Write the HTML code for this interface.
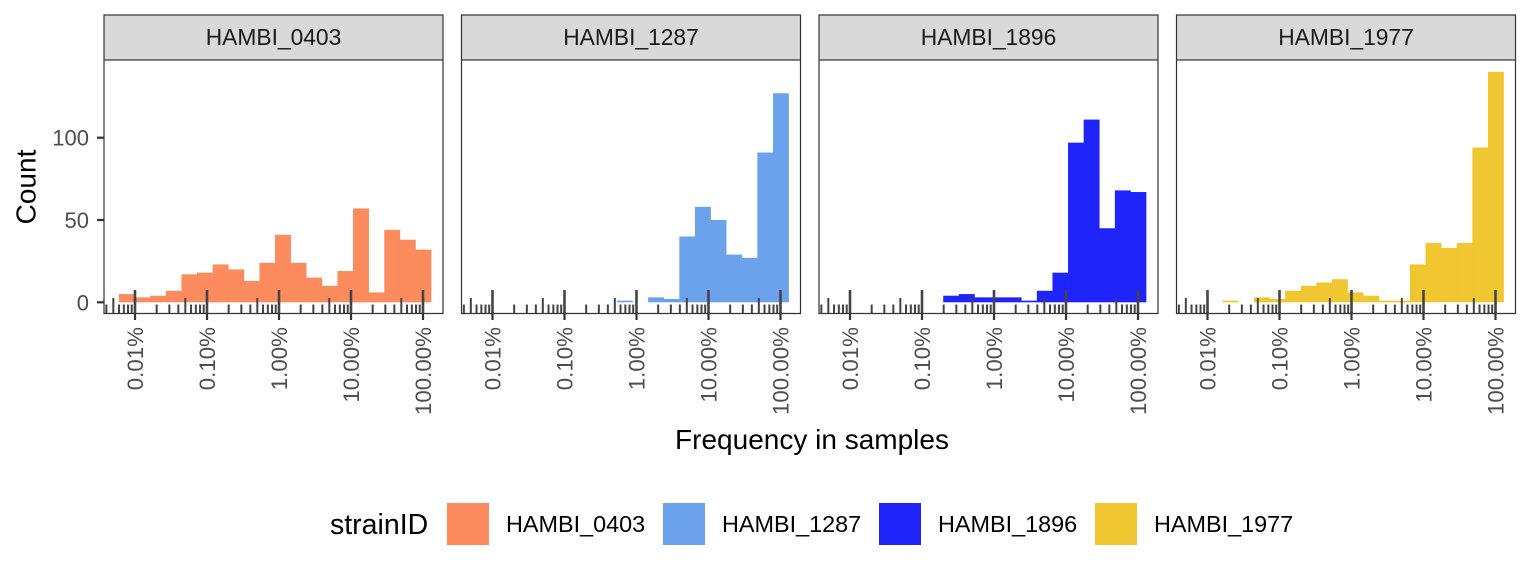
<!DOCTYPE html>
<html><head><meta charset="utf-8"><style>
html,body{margin:0;padding:0;background:#fff}
svg{display:block;font-family:"Liberation Sans",Arial,sans-serif}
</style></head><body>
<svg id="chart" width="1536" height="576" viewBox="0 0 1536 576" xmlns="http://www.w3.org/2000/svg">
<g id="panels"></g>
<text x="28" y="187" font-size="28" fill="#000" text-anchor="middle" transform="rotate(-90 28 187)" dominant-baseline="middle">Count</text>
<text x="812" y="449" font-size="28" fill="#000" text-anchor="middle">Frequency in samples</text>
<g id="legend">
<text x="330" y="534" font-size="28.5" fill="#000">strainID</text>
</g>
</svg>
<script>
const strains = ["HAMBI_0403","HAMBI_1287","HAMBI_1896","HAMBI_1977"];
const colors = ["#FC8B5D","#6CA2EC","#1E24FA","#F0C631"];
const counts0403 = [5,3,4,7,17,18,23,20,13,24,41,24,15,10,19,57,6,44,38,32];
const counts1287 = [0,0,0,0,0,0,0,0,0,1,0,3,2,40,58,50,29,27,91,127];
const counts1896 = [0,0,0,0,0,0,0,4,5,3,3,3,1,7,18,97,111,45,68,67];
const counts1977 = [0,0,1,0,3,2,7,10,12,14,6,4,1,1,23,36,33,36,94,140];
const binStart = -4.222;
const binWidth = 0.2167;
const yTicks = [0,50,100];
const xTickLabels = ["0.01%","0.10%","1.00%","10.00%","100.00%"];
const xTickLogs = [-4,-3,-2,-1,0];
const allCounts = [counts0403,counts1287,counts1896,counts1977];

const NS = "http://www.w3.org/2000/svg";
const panelLefts = [104,461.5,819,1176.5];
const PW = 339, plotTop = 60, plotBottom = 313.5;
function xs(left, lg){ return left + 31 + (lg + 4) * 72; }
function ys(v){ return 302.3 - v * 1.646; }
function mk(tag, attrs, parent){ const e=document.createElementNS(NS,tag); for(const k in attrs) e.setAttribute(k,attrs[k]); parent.appendChild(e); return e; }
const root = document.getElementById("panels");

strains.forEach((s, p) => {
  const L = panelLefts[p];
  const g = mk("g",{},root);
  
  
  const st = mk("rect",{x:L,y:15,width:PW,height:45,fill:"#d9d9d9",stroke:"#333","stroke-width":1.2},g);
  
  
  const stt = mk("text",{x:L+PW/2,y:45,"font-size":22.8,fill:"#1a1a1a","text-anchor":"middle"},g);
  stt.textContent = s;
  
  
  allCounts[p].forEach((c, i) => {
    if (c <= 0) return;
    const x0 = xs(L, binStart + binWidth*i), x1 = xs(L, binStart + binWidth*(i+1));
    const r = mk("rect",{x:x0,y:ys(c),width:x1-x0+0.3,height:ys(0)-ys(c),fill:colors[p]},g);
    
    
  });
  for (let d=-5; d<=0; d++){
    for (let k=1; k<=9; k++){
      const lg = d + Math.log10(k);
      const x = xs(L, lg);
      if (x < L || x > L+PW) continue;
      const y0 = k===1 ? 290 : (k===5 ? 298 : 304.5);
      const t = mk("line",{x1:x,x2:x,y1:y0,y2:plotBottom,stroke:"#444","stroke-width":k===1?2.6:2},g);
      
      
    }
  }
  const fr = mk("path",{d:`M${L},${plotTop} V${plotBottom} H${L+PW} V${plotTop}`,fill:"none",stroke:"#333","stroke-width":1.2},g);
  
  
  xTickLogs.forEach((lg, j) => {
    const x = xs(L, lg);
    mk("line",{x1:x,x2:x,y1:plotBottom,y2:320,stroke:"#333","stroke-width":2.2},g);
    const t = mk("text",{x:0,y:0,"font-size":22.3,fill:"#4d4d4d","text-anchor":"end",transform:`translate(${x+8},${327}) rotate(-90)`},g);
    t.textContent = xTickLabels[j];
    
    
  });
  if (p===0){
    yTicks.forEach(v => {
      const y = ys(v);
      mk("line",{x1:97,x2:L,y1:y,y2:y,stroke:"#333","stroke-width":2.2},g);
      const t = mk("text",{x:89,y:y+8,"font-size":22,fill:"#4d4d4d","text-anchor":"end"},g);
      t.textContent = v;
      
      
    });
  }
});

const lgd = document.getElementById("legend");
strains.forEach((s, i) => {
  const kx = 447 + 216*i;
  const r = mk("rect",{x:kx,y:503,width:42,height:42,fill:colors[i]},lgd);
  
  
  const t = mk("text",{x:kx+59,y:532,"font-size":23.4,fill:"#000"},lgd);
  t.textContent = s;
  
  
});
</script>
</body></html>
